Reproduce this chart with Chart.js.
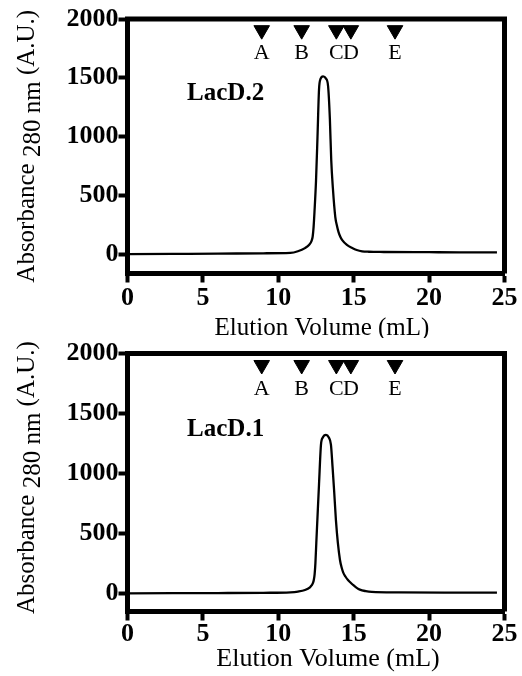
<!DOCTYPE html>
<html>
<head>
<meta charset="utf-8">
<script src="https://cdn.jsdelivr.net/npm/chart.js@4"></script>
<style>
  html, body { margin: 0; padding: 0; background: #fff; }
  .panel { position: absolute; left: 0; width: 522px; height: 338px; }
</style>
</head>
<body>
<div class="panel" style="top:0"><canvas id="chartTop" width="522" height="338"></canvas></div>
<div class="panel" style="top:338px"><canvas id="chartBottom" width="522" height="338"></canvas></div>
<script>
// axis ticks
const yTicks = [0, 500, 1000, 1500, 2000];
const xMin = 0;
const xMax = 25;
const xStep = 5;

// calibration markers (elution volume, mL)
const markerNames = ['A', 'B', 'C', 'D', 'E'];
const markerVolumes = [8.9, 11.55, 13.85, 14.81, 17.74];
const markerLevel = 1905;
const markerLabelLevel = 1705;

// LacD.2 trace
const lacd2Volume = [0, 3, 6, 9, 10.8, 11.3, 11.77, 12.05, 12.2, 12.28, 12.34, 12.4, 12.5, 12.6, 12.7, 12.8, 12.97, 13.15, 13.3, 13.42, 13.51, 13.62, 13.78, 13.9, 14.0, 14.12, 14.24, 14.55, 14.9, 15.2, 15.56, 16, 17, 20, 22, 24.5];
const lacd2Absorbance = [0, 2, 4, 7, 10, 24, 51, 80, 110, 150, 230, 360, 620, 1000, 1400, 1490, 1512, 1495, 1430, 1150, 800, 560, 315, 235, 185, 145, 119, 78, 52, 35, 24, 20, 18, 16, 15, 15];

// LacD.1 trace
const lacd1Volume = [0, 3, 6, 9, 10.8, 11.3, 11.77, 12.1, 12.22, 12.3, 12.36, 12.41, 12.46, 12.52, 12.59, 12.7, 12.83, 12.95, 13.16, 13.35, 13.49, 13.6, 13.7, 13.82, 13.95, 14.09, 14.2, 14.3, 14.45, 14.62, 14.8, 15.0, 15.2, 15.41, 15.8, 16.2, 18, 21, 24.5];
const lacd1Absorbance = [0, 1, 2, 4, 8, 14, 27, 50, 68, 86, 115, 160, 250, 420, 612, 910, 1240, 1300, 1322, 1300, 1240, 1050, 860, 612, 420, 278, 215, 175, 140, 111, 88, 65, 45, 30, 18, 12, 8, 6, 5];

const SERIF = '"Liberation Serif", "Times New Roman", serif';
Chart.defaults.font.family = SERIF;
Chart.defaults.color = '#000';

// top + right frame lines, marker letters, sample name, axis titles
const framePlugin = {
  id: 'frame',
  afterDraw(chart, args, opts) {
    const { ctx, chartArea: a, scales } = chart;
    const xs = scales.x, ys = scales.y;
    ctx.save();
    ctx.strokeStyle = '#000';
    ctx.lineWidth = 5;
    ctx.beginPath();
    ctx.moveTo(a.left - 2.5, a.top);
    ctx.lineTo(a.right + 2.5, a.top);
    ctx.moveTo(a.right, a.top);
    ctx.lineTo(a.right, a.bottom);
    ctx.stroke();

    ctx.fillStyle = '#000';
    ctx.font = '22px ' + SERIF;
    ctx.textAlign = 'center';
    ctx.textBaseline = 'middle';
    markerNames.forEach((n, i) => {
      ctx.fillText(n, xs.getPixelForValue(markerVolumes[i]), ys.getPixelForValue(markerLabelLevel));
    });

    ctx.font = 'bold 25px ' + SERIF;
    ctx.textAlign = 'left';
    ctx.textBaseline = 'alphabetic';
    ctx.fillText(opts.name, xs.getPixelForValue(3.95), ys.getPixelForValue(1310));

    // x title
    ctx.font = opts.titleSize + 'px ' + SERIF;
    ctx.textAlign = 'center';
    ctx.textBaseline = 'middle';
    ctx.fillText('Elution Volume (mL)', (a.left + a.right) / 2 + opts.titleShiftX, a.bottom + opts.titleGap);

    // y title, "280 nm" sits a little lower like a subscript
    const parts = [['Absorbance ', 0], ['280 nm', 6], [' (A.U.)', 0]];
    ctx.font = '25px ' + SERIF;
    const total = parts.reduce((s, p) => s + ctx.measureText(p[0]).width, 0);
    ctx.translate(34, (a.top + a.bottom) / 2 + opts.yTitleShift);
    ctx.rotate(-Math.PI / 2);
    ctx.textAlign = 'left';
    ctx.textBaseline = 'alphabetic';
    let pos = -total / 2;
    for (const [t, dy] of parts) {
      ctx.fillText(t, pos, dy);
      pos += ctx.measureText(t).width;
    }
    ctx.restore();
  }
};

function axisStyle() {
  return {
    grid: { drawOnChartArea: false, drawTicks: true, tickLength: 9, tickWidth: 4, tickColor: '#000' },
    border: { display: true, width: 5, color: '#000' },
  };
}

function makeChart(id, name, volume, absorbance, p) {
  const trace = volume.map((v, i) => ({ x: v, y: absorbance[i] }));
  const markers = markerVolumes.map(v => ({ x: v, y: markerLevel }));
  return new Chart(document.getElementById(id), {
    type: 'line',
    data: {
      datasets: [
        {
          label: name,
          data: trace,
          borderColor: '#000',
          borderWidth: 2.3,
          pointRadius: 0,
          fill: false,
          cubicInterpolationMode: 'monotone',
        },
        {
          label: 'markers',
          data: markers,
          showLine: false,
          pointStyle: 'triangle',
          rotation: 180,
          pointRadius: 9,
          pointBackgroundColor: '#000',
          pointBorderColor: '#000',
          pointBorderWidth: 1,
        }
      ]
    },
    options: {
      responsive: false,
      animation: false,
      layout: { padding: { top: p.padTop, right: 17.5, left: 0, bottom: 0 } },
      plugins: {
        legend: { display: false },
        tooltip: { enabled: false },
        frame: { name, titleGap: p.titleGap, titleShiftX: p.titleShiftX, titleSize: p.titleSize, yTitleShift: p.yTitleShift },
      },
      scales: {
        x: {
          type: 'linear',
          min: xMin,
          max: xMax,
          ...axisStyle(),
          ticks: { stepSize: xStep, padding: p.tickPad, maxRotation: 0, font: { size: 26, weight: 'bold' }, color: '#000', callback: v => String(v) },
          afterFit: s => { s.height = 64.5; },
        },
        y: {
          min: p.yMin,
          max: 2000,
          ...axisStyle(),
          ticks: { padding: 0, font: { size: 26, weight: 'bold' }, color: '#000', callback: v => String(v) },
          afterBuildTicks: s => { s.ticks = yTicks.map(v => ({ value: v })); },
          afterFit: s => { s.width = 127.5; },
        }
      }
    },
    plugins: [framePlugin]
  });
}

makeChart('chartTop', 'LacD.2', lacd2Volume, lacd2Absorbance,
  { yMin: -165, padTop: 19, tickPad: 0, titleGap: 55, titleShiftX: 6, titleSize: 25, yTitleShift: 0 });
makeChart('chartBottom', 'LacD.1', lacd1Volume, lacd1Absorbance,
  { yMin: -152, padTop: 15.5, tickPad: -2, titleGap: 48, titleShiftX: 12, titleSize: 26, yTitleShift: -5 });
</script>
</body>
</html>
